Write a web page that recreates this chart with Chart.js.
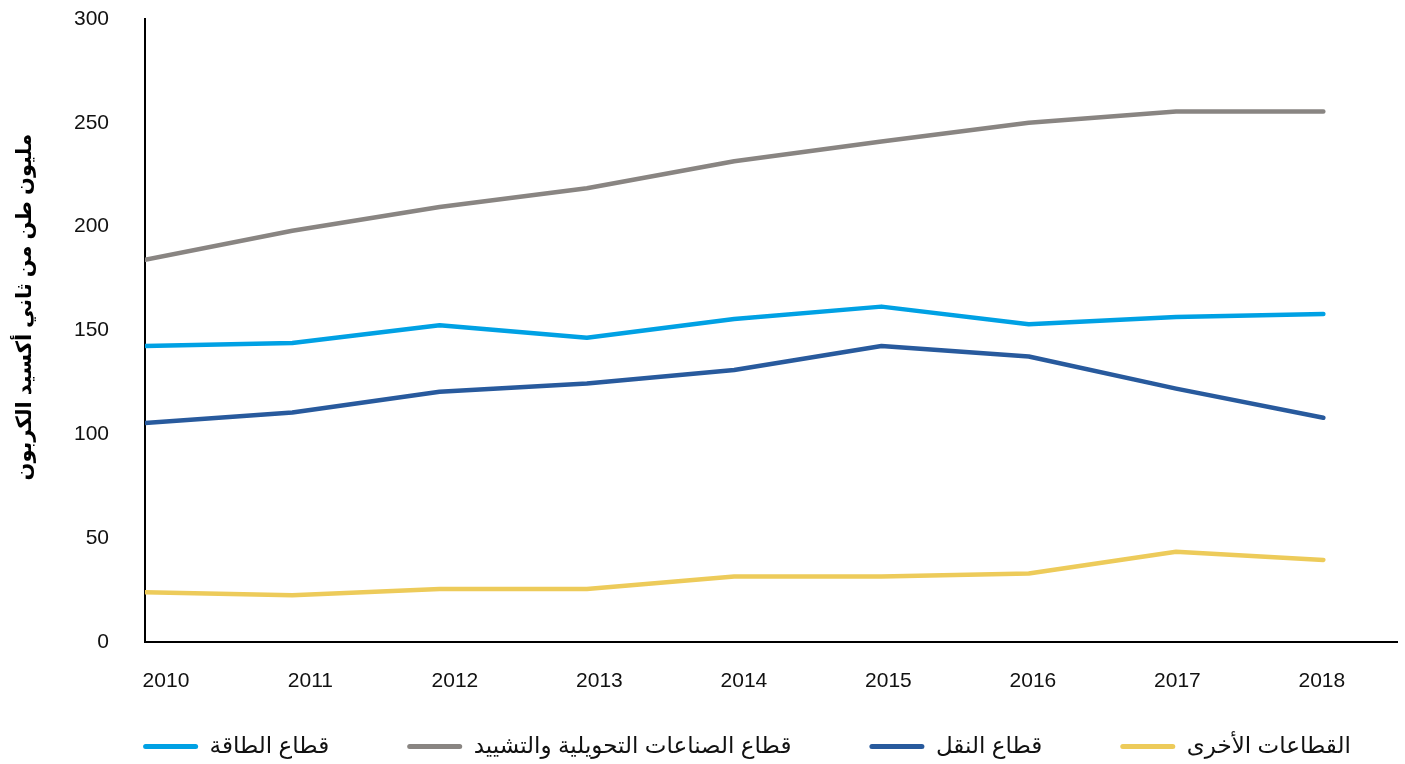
<!DOCTYPE html>
<html>
<head>
<meta charset="utf-8">
<script src="https://cdn.jsdelivr.net/npm/chart.js@4.4.1/dist/chart.umd.min.js"></script>
<style>
  html, body { margin: 0; padding: 0; background: #fff; }
</style>
</head>
<body>
<canvas id="co2-sectors" width="1405" height="764"></canvas>
<script>
// data
const years = [2010, 2011, 2012, 2013, 2014, 2015, 2016, 2017, 2018];
const energy = [142.5, 144, 152.5, 146.5, 155.5, 161.5, 153, 156.5, 158];
const industry = [184, 198, 209.5, 218.5, 231.5, 241, 250, 255.5, 255.5];
const transport = [105.5, 110.5, 120.5, 124.5, 131, 142.5, 137.5, 122, 108];
const other = [24, 22.5, 25.5, 25.5, 31.5, 31.5, 33, 43.5, 39.5];
const seriesNames = ["قطاع الطاقة", "قطاع الصناعات التحويلية والتشييد", "قطاع النقل", "القطاعات الأخرى"];
const yTicks = [0, 50, 100, 150, 200, 250, 300];
const yTitle = "مليون طن من ثاني أكسيد الكربون";

const FONT = "'Liberation Sans', Arial, 'DejaVu Sans', sans-serif";
const LEGEND_SHIFT_X = 44;
const LEGEND_TOP = 657;

const toPoints = (vals) => years.map((yr, i) => ({ x: yr, y: vals[i] }));

const mkLine = (label, vals, color) => ({
  label: label,
  data: toPoints(vals),
  borderColor: color,
  backgroundColor: color,
  borderWidth: 4.5,
  borderCapStyle: "round",
  borderJoinStyle: "round",
  pointRadius: 0,
  tension: 0,
  xAxisID: "x",
});

const dataForChart = {
  datasets: [
    mkLine(seriesNames[0], energy, "rgb(0, 161, 228)"),
    mkLine(seriesNames[1], industry, "rgb(137, 133, 130)"),
    mkLine(seriesNames[2], transport, "rgb(40, 90, 157)"),
    mkLine(seriesNames[3], other, "rgb(237, 203, 90)"),
  ],
};

// move the legend row to where the original has it
const legendShift = {
  id: "legendShift",
  afterLayout(chart) {
    const lg = chart.legend;
    if (!lg) return;
    const h = lg.height;
    lg.left += LEGEND_SHIFT_X;
    lg.right += LEGEND_SHIFT_X;
    lg.top = LEGEND_TOP;
    lg.bottom = LEGEND_TOP + h;
  },
};

// config
const config = {
  type: "line",
  data: dataForChart,
  plugins: [legendShift],
  options: {
    responsive: false,
    animation: false,
    devicePixelRatio: 1,
    layout: { padding: { left: 9, right: 8, top: 19, bottom: -44 } },
    plugins: {
      tooltip: { enabled: false },
      legend: {
        position: "bottom",
        labels: {
          boxWidth: 55,
          boxHeight: 5,
          useBorderRadius: true,
          borderRadius: 2.5,
          padding: 78,
          color: "#111",
          font: { family: FONT, size: 23 },
          generateLabels: (chart) =>
            Chart.defaults.plugins.legend.labels.generateLabels(chart).map((l) => {
              l.lineWidth = 0;
              return l;
            }),
        },
      },
    },
    scales: {
      x: {
        type: "linear",
        min: 2010,
        max: 2018.5,
        grid: { display: false, drawTicks: false },
        border: { display: true, color: "#000", width: 2 },
        ticks: { display: false },
      },
      xl: {
        type: "linear",
        position: "bottom",
        weight: 1,
        min: 2009.855,
        max: 2018.52,
        grid: { display: false, drawTicks: false },
        border: { display: false },
        afterFit: (scale) => {
          scale.height = 55;
          scale.paddingLeft = 0;
          scale.paddingRight = 0;
        },
        ticks: {
          stepSize: 1,
          includeBounds: false,
          padding: 27,
          color: "#111",
          font: { family: FONT, size: 21 },
          maxRotation: 0,
          autoSkip: false,
          callback: (v) => (Number.isInteger(v) && years.includes(v) ? String(v) : ""),
        },
      },
      y: {
        min: 0,
        max: 300,
        afterBuildTicks: (scale) => {
          scale.ticks = yTicks.map((v) => ({ value: v }));
        },
        afterFit: (scale) => {
          scale.width = 136;
          scale.paddingTop = 0;
          scale.paddingBottom = 0;
        },
        grid: { display: false, drawTicks: false },
        border: { display: true, color: "#000", width: 2 },
        ticks: {
          padding: 36,
          color: "#111",
          font: { family: FONT, size: 21 },
        },
        title: {
          display: true,
          // leading spaces lift the rotated title a little, as in the original
          text: "        " + yTitle,
          color: "#000",
          font: { family: FONT, size: 21, weight: "bold" },
          padding: { top: 4, bottom: 0 },
        },
      },
    },
  },
};

// create chart
const myChart = new Chart(document.getElementById("co2-sectors"), config);
</script>
</body>
</html>
